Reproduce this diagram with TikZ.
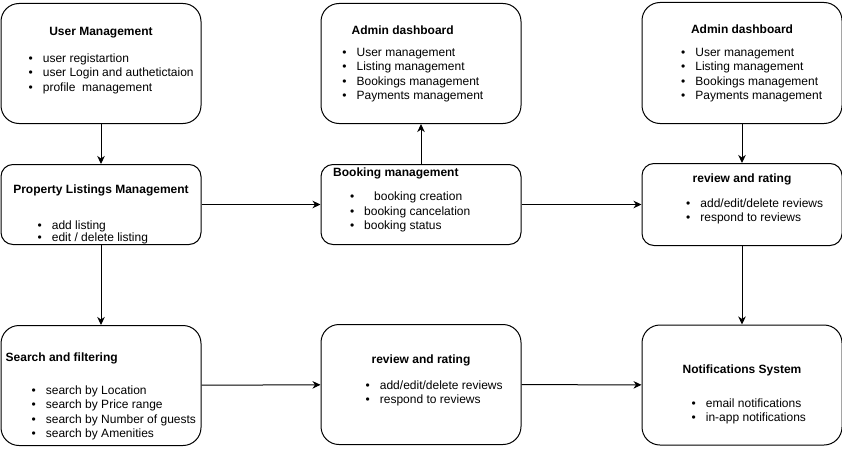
\documentclass[tikz,border=0pt]{standalone}
\usepackage{fontspec}
\setmainfont{Liberation Sans}
\usepackage{array}
\usetikzlibrary{arrows.meta,positioning}
\newcolumntype{B}{>{\textbullet\hspace{10pt}}l}

\begin{document}
\begin{tikzpicture}[
    node distance=40pt and 119pt,
    panel/.style={rectangle, draw=black, line width=1pt, rounded corners=18pt, minimum width=200pt, minimum height=120pt, inner sep=0pt},
    smallpanel/.style={panel, rounded corners=12pt, minimum height=80pt},
    paneltitle/.style={inner sep=0pt, text height=9pt, text depth=3pt, font=\bfseries\fontsize{12}{14.5}\selectfont},
    itemlist/.style={inner sep=0pt, font=\fontsize{12}{14.5}\selectfont},
    arrow/.style={-{Stealth[length=8pt, width=7.5pt, inset=2.5pt]}, line width=1pt}
]
\useasboundingbox (0,0) rectangle (842pt,-452pt);

% left column
\node[panel] (usermgmt) at (101pt,-63.5pt) {};
\node[smallpanel, below=40pt of usermgmt] (listings) {};
\node[panel, below=80pt of listings] (search) {};

% middle column
\node[smallpanel, right=119pt of listings] (booking) {};
\node[panel, above=40pt of booking] (admin) {};
\node[panel, below=79pt of booking] (review) {};

% right column
\node[smallpanel, minimum height=82pt, right=120pt of booking] (review_r) {};
\node[panel, minimum height=121pt, above=39pt of review_r] (admin_r) {};
\node[panel, below=78.5pt of review_r] (notify) {};

% texts
\node[paneltitle, below=23.2pt of usermgmt.north] (usermgmt_title) {User Management};
\node[itemlist, below right=49pt and 28pt of usermgmt.north west] (usermgmt_list) {\begin{tabular}{@{}B@{}}user registartion\\user Login and authetictaion\\profile\ \ management\end{tabular}};

\node[paneltitle, below=20.2pt of listings.north] (listings_title) {Property Listings Management};
\node[itemlist, below right=54.85pt and 37pt of listings.north west] (listings_list) {\begin{tabular}{@{}B@{}}add listing\\[-2pt]edit / delete listing\end{tabular}};

\node[paneltitle, below right=26.8pt and 5pt of search.north west] (search_title) {Search and filtering};
\node[itemlist, below right=58.65pt and 31pt of search.north west] (search_list) {\begin{tabular}{@{}B@{}}search by Location\\search by Price range\\search by Number of guests\\search by Amenities\end{tabular}};

\node[paneltitle, below right=22.5pt and 31pt of admin.north west] (admin_title) {Admin dashboard};
\node[itemlist, below right=43.05pt and 21.7pt of admin.north west] (admin_list) {\begin{tabular}{@{}B@{}}User management\\Listing management\\Bookings management\\Payments management\end{tabular}};

\node[paneltitle, below right=3.2pt and 12.5pt of booking.north west] (booking_title) {Booking management};
\node[itemlist, below right=26.35pt and 29.3pt of booking.north west] (booking_list) {\begin{tabular}{@{}B@{}}\hspace{10pt}booking creation\\booking cancelation\\booking status\end{tabular}};

\node[paneltitle, below=30.2pt of review.north] (review_title) {review and rating};
\node[itemlist, below right=55.05pt and 45pt of review.north west] (review_list) {\begin{tabular}{@{}B@{}}add/edit/delete reviews\\respond to reviews\end{tabular}};

\node[paneltitle, below=22.5pt of admin_r.north] (admin_r_title) {Admin dashboard};
\node[itemlist, below right=44.05pt and 39.5pt of admin_r.north west] (admin_r_list) {\begin{tabular}{@{}B@{}}User management\\Listing management\\Bookings management\\Payments management\end{tabular}};

\node[paneltitle, below=10.2pt of review_r.north] (review_r_title) {review and rating};
\node[itemlist, below right=34.05pt and 44.5pt of review_r.north west] (review_r_list) {\begin{tabular}{@{}B@{}}add/edit/delete reviews\\respond to reviews\end{tabular}};

\node[paneltitle, below=39.7pt of notify.north] (notify_title) {Notifications System};
\node[itemlist, below right=72.85pt and 50pt of notify.north west] (notify_list) {\begin{tabular}{@{}B@{}}email notifications\\[-1pt]in-app notifications\end{tabular}};

% connectors
\draw[arrow] (usermgmt) -- (listings);
\draw[arrow] (listings) -- (search);
\draw[arrow] (listings) -- (booking);
\draw[arrow] (booking) -- (admin);
\draw[arrow] (booking) -- (review_r);
\draw[arrow] (admin_r) -- (review_r);
\draw[arrow] (review_r) -- (notify);
\draw[arrow] (search) -- (review);
\draw[arrow] (review) -- (notify);
\end{tikzpicture}
\end{document}
